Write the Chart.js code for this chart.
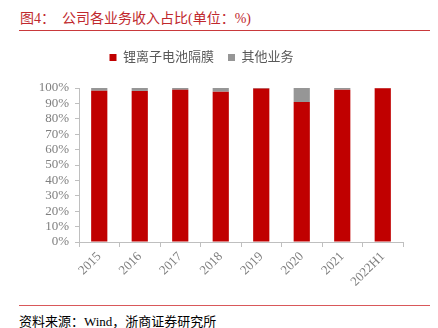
<!DOCTYPE html>
<html>
<head>
<meta charset="utf-8">
<script src="https://cdn.jsdelivr.net/npm/chart.js@4"></script>
<style>
  body { margin: 0; background: #fff; width: 438px; height: 328px; position: relative; overflow: hidden; }
  .title { position: absolute; left: 20px; top: 7px; font: 14px 'Liberation Serif', 'Noto Sans CJK SC', serif; color: #c0282d; white-space: pre; }
  .rule-top { position: absolute; left: 19px; top: 30px; width: 411px; height: 0; border-top: 1.5px solid #c9393b; }
  .rule-bottom { position: absolute; left: 19px; top: 305px; width: 411px; height: 0; border-top: 1px solid #d9585a; }
  .source { position: absolute; left: 19px; top: 311px; font: 13px 'Liberation Serif', 'Noto Sans CJK SC', serif; color: #000; white-space: pre; }
  #wrap { position: absolute; left: 0; top: 0; width: 438px; height: 304px; }
</style>
</head>
<body>
<div class="title">图4：  公司各业务收入占比(单位：%)</div>
<div class="rule-top"></div>
<div id="wrap"><canvas id="myChart"></canvas></div>
<div class="rule-bottom"></div>
<div class="source">资料来源：Wind，浙商证券研究所</div>

<script>
// categories and shares (%)
const years = ['2015', '2016', '2017', '2018', '2019', '2020', '2021', '2022H1'];
const separatorShare = [98.2, 98.1, 98.8, 97.6, 99.6, 90.9, 98.9, 99.8];
const otherShare = [1.8, 1.9, 1.2, 2.4, 0.4, 9.1, 1.1, 0.2];
const yTicks = [0, 10, 20, 30, 40, 50, 60, 70, 80, 90, 100];

const serif = "'Liberation Serif', 'Noto Sans CJK SC', serif";
const axisGray = '#bfbfbf';

// extra room under the legend
const legendGap = {
  id: 'legendGap',
  beforeInit(chart) {
    const fit = chart.legend.fit;
    chart.legend.fit = function () {
      fit.bind(chart.legend)();
      this.height += 14;
    };
  }
};

const data = {
  labels: years,
  datasets: [
    {
      label: '锂离子电池隔膜',
      data: separatorShare,
      backgroundColor: '#c00000',
      categoryPercentage: 1,
      barPercentage: 0.4
    },
    {
      label: '其他业务',
      data: otherShare,
      backgroundColor: '#969696',
      categoryPercentage: 1,
      barPercentage: 0.4
    }
  ]
};

const config = {
  type: 'bar',
  data: data,
  plugins: [legendGap],
  options: {
    responsive: true,
    maintainAspectRatio: false,
    animation: false,
    layout: {
      padding: { top: 37, right: 35, bottom: 0, left: 0 }
    },
    plugins: {
      legend: {
        position: 'top',
        labels: {
          boxWidth: 7,
          boxHeight: 7,
          padding: 14,
          color: '#595959',
          font: { family: serif, size: 13 }
        }
      },
      tooltip: { enabled: false }
    },
    scales: {
      x: {
        stacked: true,
        grid: {
          drawOnChartArea: false,
          drawTicks: true,
          tickLength: 5,
          color: axisGray,
          offset: true
        },
        border: { display: true, color: axisGray },
        ticks: {
          color: '#7f7f7f',
          font: { family: serif, size: 13 },
          maxRotation: 45,
          minRotation: 45,
          padding: 2
        },
        afterFit: s => { s.height = 62; }
      },
      y: {
        stacked: true,
        min: 0,
        max: 100,
        afterBuildTicks: s => { s.ticks = yTicks.map(v => ({ value: v })); },
        grid: {
          drawOnChartArea: false,
          drawTicks: true,
          tickLength: 4,
          color: axisGray
        },
        border: { display: true, color: axisGray },
        ticks: {
          autoSkip: false,
          color: '#7f7f7f',
          font: { family: serif, size: 13 },
          padding: 6,
          callback: v => v + '%'
        },
        afterFit: s => { s.width = 79; }
      }
    }
  }
};

const myChart = new Chart(document.getElementById('myChart'), config);
</script>
</body>
</html>
